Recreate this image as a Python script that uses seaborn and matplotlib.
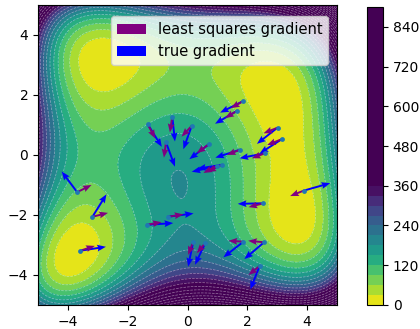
import numpy as np
import pandas as pd
import matplotlib
matplotlib.use("Agg")
import matplotlib.pyplot as plt
import seaborn as sns

# contour levels / ticks
levels = np.arange(0, 901, 30)
cbar_ticks = np.arange(0, 841, 120)
axis_ticks = [-4, -2, 0, 2, 4]

# sample points and gradient vectors
sample_x = [-1.33, -0.51, 0.14, -0.72, 0.73, 0.98, 1.15, 1.74, 1.87, 1.67, 3.01, 3.16, 2.60,
            3.88, -3.69, -3.18, -3.58, -0.66, -1.37, 0.19, 0.59, 2.54, 1.87, 2.56, 2.41]
sample_y = [1.02, 1.28, 0.97, 0.42, 0.37, -0.37, -0.33, 0.17, 1.80, 1.48, 0.91, 0.53, 0.06,
            -1.19, -1.24, -2.06, -3.19, -2.06, -2.33, -2.89, -2.94, -1.61, -2.89, -2.91, -3.70]
true_u = [0.47, 0.09, -0.28, 0.30, -0.67, -0.84, -0.83, -0.81, -0.78, -0.75, -0.69, -0.75, -0.86,
          0.89, -0.52, 0.47, 0.85, 0.86, 0.89, -0.17, -0.34, -0.86, -0.67, -0.66, -0.31]
true_v = [-0.75, -0.83, -0.78, -0.81, -0.51, -0.19, -0.13, -0.26, -0.39, -0.44, -0.54, -0.48, -0.17,
          0.25, 0.69, 0.75, 0.13, 0.11, 0.06, -0.83, -0.72, -0.02, -0.52, -0.56, -0.78]
ls_u = [0.25, -0.08, -0.34, -0.07, -0.42, -0.45, -0.49, -0.42, -0.42, -0.41, -0.47, -0.50, -0.45,
        -0.45, 0.48, 0.52, 0.48, 0.52, 0.50, -0.17, -0.28, -0.50, -0.50, -0.53, -0.37]
ls_v = [-0.47, -0.53, -0.36, -0.51, -0.31, -0.23, -0.23, -0.17, -0.24, -0.25, -0.19, -0.20, -0.17,
        -0.18, 0.24, 0.13, 0.16, 0.08, 0.09, -0.44, -0.33, -0.13, 0.03, 0.05, -0.30]


def himmelblau(x, y):
    return (x**2 + y - 11)**2 + (x + y**2 - 7)**2


gx = np.linspace(-5, 5, 300)
X, Y = np.meshgrid(gx, gx)
Z = himmelblau(X, Y)

pts = pd.DataFrame({'x': sample_x, 'y': sample_y})

fig = plt.figure(figsize=(4.2, 3.29), dpi=100)
ax = fig.add_axes([0.0905, 0.073, 0.712, 0.912])
cax = fig.add_axes([0.874, 0.073, 0.038, 0.906])

cf = ax.contourf(X, Y, Z, levels=levels, cmap='viridis_r', vmin=0, vmax=360)
ax.contour(X, Y, Z, levels=levels, colors='white', linewidths=0.5,
           alpha=0.45, linestyles='dashed')

arrow_kw = dict(angles='xy', scale_units='xy', scale=1, width=0.0065,
                headwidth=3.5, headlength=4.5, headaxislength=4)
q_true = ax.quiver(sample_x, sample_y, true_u, true_v, color='blue', zorder=3, **arrow_kw)
q_ls = ax.quiver(sample_x, sample_y, ls_u, ls_v, color='purple', zorder=4, **arrow_kw)
sns.scatterplot(data=pts, x='x', y='y', ax=ax, color='C0', s=12,
                linewidth=0, zorder=5)

ax.set_xlim(-5, 5)
ax.set_ylim(-5, 5)
ax.set_xticks(axis_ticks)
ax.set_yticks(axis_ticks)
ax.set_xlabel('')
ax.set_ylabel('')
ax.legend([q_ls, q_true], ['least squares gradient', 'true gradient'],
          loc='upper right', fontsize=10.5, bbox_to_anchor=(0.994, 0.987))

cb = fig.colorbar(cf, cax=cax)
cb.set_ticks(cbar_ticks)

fig.savefig('out.png', dpi=100)
